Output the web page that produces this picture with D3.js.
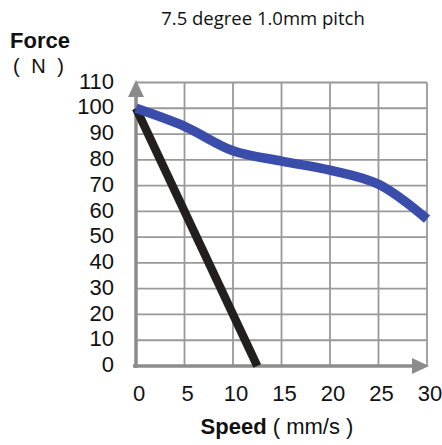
<!DOCTYPE html>
<html>
<head>
<meta charset="utf-8">
<script src="https://cdn.jsdelivr.net/npm/d3@7"></script>
<style>
  body { margin: 0; background: #fff; }
  text { fill: #111; }
</style>
</head>
<body>
<svg width="442" height="445"></svg>
<script>
const xTicks = [0, 5, 10, 15, 20, 25, 30];
const yTicks = [0, 10, 20, 30, 40, 50, 60, 70, 80, 90, 100, 110];

const speedBlue = [0, 5, 10, 15, 20, 25, 30];
const forceBlue = [100, 93, 83.5, 79.5, 76, 70.5, 57];

const speedBlack = [0, 12.5];
const forceBlack = [100, 0];

const font = "'Liberation Sans', Arial, sans-serif";
const svg = d3.select("svg").attr("font-family", font);

const x = d3.scaleLinear().domain([0, 30]).range([136, 427]);
const y = d3.scaleLinear().domain([0, 110]).range([366, 82.5]);

// grid
svg.append("g")
    .selectAll("line")
    .data(yTicks.filter(d => d > 0))
    .join("line")
    .attr("x1", x(0)).attr("x2", x(30))
    .attr("y1", d => y(d)).attr("y2", d => y(d))
    .attr("stroke", "#999").attr("stroke-width", 1.8);

svg.append("g")
    .selectAll("line")
    .data(xTicks.filter(d => d > 0))
    .join("line")
    .attr("x1", d => x(d)).attr("x2", d => x(d))
    .attr("y1", y(110)).attr("y2", y(0))
    .attr("stroke", "#999").attr("stroke-width", 1.8);

// axes with arrows
const axisColor = "#8c8c8c";
svg.append("line")
    .attr("x1", x(0)).attr("x2", x(0))
    .attr("y1", y(0) + 2).attr("y2", 96)
    .attr("stroke", axisColor).attr("stroke-width", 3.5);
svg.append("path")
    .attr("d", `M${x(0) - 8},97 L${x(0)},80 L${x(0) + 8},97 Z`)
    .attr("fill", axisColor);

svg.append("line")
    .attr("x1", x(0) - 3).attr("x2", 413)
    .attr("y1", y(0)).attr("y2", y(0))
    .attr("stroke", axisColor).attr("stroke-width", 3.5);
svg.append("path")
    .attr("d", `M412,${y(0) - 8} L429,${y(0)} L412,${y(0) + 8} Z`)
    .attr("fill", axisColor);

// tick labels
svg.append("g")
    .selectAll("text")
    .data(yTicks)
    .join("text")
    .attr("x", 114)
    .attr("y", d => y(d))
    .attr("dy", "0.28em")
    .attr("text-anchor", "end")
    .attr("font-size", 22)
    .text(d => d);

svg.append("g")
    .selectAll("text")
    .data(xTicks)
    .join("text")
    .attr("x", d => x(d) + 3)
    .attr("y", 401)
    .attr("text-anchor", "middle")
    .attr("font-size", 22)
    .text(d => d);

// series
const line = d3.line()
    .x(d => x(d[0]))
    .y(d => y(d[1]))
    .curve(d3.curveCatmullRom.alpha(0.5));

svg.append("path")
    .datum(speedBlack.map((s, i) => [s, forceBlack[i]]))
    .attr("d", d3.line().x(d => x(d[0])).y(d => y(d[1])))
    .attr("fill", "none")
    .attr("stroke", "#231f1d")
    .attr("stroke-width", 8.5);

svg.append("path")
    .datum(speedBlue.map((s, i) => [s, forceBlue[i]]))
    .attr("d", line)
    .attr("fill", "none")
    .attr("stroke", "#3a4dab")
    .attr("stroke-width", 9.5);

// titles
svg.append("text")
    .attr("x", 263).attr("y", 25)
    .attr("text-anchor", "middle")
    .attr("font-family", "'Open Sans', sans-serif")
    .attr("font-size", 18.5)
    .text("7.5 degree 1.0mm pitch");

svg.append("text")
    .attr("x", 10).attr("y", 48)
    .attr("font-size", 22)
    .attr("font-weight", "bold")
    .text("Force");

svg.append("text")
    .attr("x", 13).attr("y", 73)
    .attr("font-size", 20)
    .attr("xml:space", "preserve")
    .attr("word-spacing", 6)
    .text("( N )");

const xt = svg.append("text")
    .attr("x", 277).attr("y", 434)
    .attr("text-anchor", "middle")
    .attr("font-size", 22);
xt.append("tspan").attr("font-weight", "bold").text("Speed");
xt.append("tspan").attr("xml:space", "preserve").text(" ( mm/s )");
</script>
</body>
</html>
